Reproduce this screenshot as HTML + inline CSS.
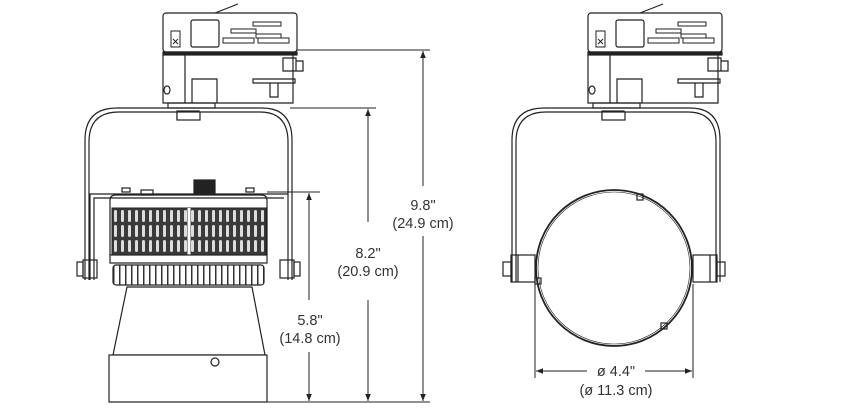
<!DOCTYPE html>
<html><head><style>
html,body{margin:0;padding:0;background:#fff;}
svg{display:block;}
text{font-family:"Liberation Sans",sans-serif;font-size:14.5px;fill:#333;}
</style></head><body>
<svg width="850" height="412" viewBox="0 0 850 412" xmlns="http://www.w3.org/2000/svg">
<defs>
<marker id="ar" viewBox="0 0 10 10" refX="10" refY="5" markerWidth="7" markerHeight="7" orient="auto-start-reverse"><path d="M0,1 L10,5 L0,9 z" fill="#222"/></marker>
<g id="adapter" fill="none" stroke="#222" stroke-width="1.2">
  <rect x="0" y="0" width="134" height="39" rx="3" fill="#fff"/>
  <line x1="52" y1="0" x2="75" y2="-9"/>
  <rect x="8" y="18" width="9" height="16" stroke-width="1"/>
  <path d="M10,26 l5,5 M15,26 l-5,5" stroke-width="1"/>
  <rect x="28" y="7" width="28" height="27" rx="2"/>
  <rect x="60" y="25" width="31" height="5" stroke-width="1"/>
  <rect x="95" y="25" width="31" height="5" stroke-width="1"/>
  <rect x="68" y="16" width="25" height="4" stroke-width="1"/>
  <rect x="90" y="9" width="28" height="4" stroke-width="1"/>
  <rect x="93" y="21" width="25" height="4" stroke-width="1"/>
  <rect x="0" y="39" width="134" height="3" fill="#222"/>
  <path d="M0,42 V90 H130 V42"/>
  <line x1="22" y1="42" x2="22" y2="90"/>
  <path d="M29,90 V66 H54 V90"/>
  <path d="M90,66 H132 V70 H90 z M107,70 V84 H115 V70"/>
  <path d="M120,45 H133 V58 H120 z M133,48 H140 V58 H133"/>
  <ellipse cx="4" cy="77" rx="3" ry="4"/>
  <rect x="5" y="90" width="47" height="5"/>
  <rect x="14" y="98" width="22" height="8"/>
</g>
<pattern id="slots" x="112" y="208" width="7" height="47" patternUnits="userSpaceOnUse">
  <rect width="7" height="47" fill="#3a3a3a"/>
  <rect x="2" y="2" width="3" height="12" rx="1.5" fill="#ddd"/>
  <rect x="2" y="17" width="3" height="12" rx="1.5" fill="#ddd"/>
  <rect x="2" y="32" width="3" height="12" rx="1.5" fill="#ddd"/>
</pattern>
<pattern id="ribs" x="113" y="265" width="6" height="20" patternUnits="userSpaceOnUse">
  <rect width="6" height="20" fill="#fff"/>
  <rect x="0" width="1.5" height="20" fill="#333"/>
</pattern>
</defs>

<!-- LEFT VIEW -->
<use href="#adapter" x="163" y="13"/>
<g fill="none" stroke="#222" stroke-width="1.2">
  <!-- yoke -->
  <path d="M85,280 V140 Q85,108 117,108 H262 Q292,108 292,140 V280"/>
  <path d="M89,280 V142 Q89,112 119,112 H260 Q288,112 288,142 V280"/>
  <path d="M90,280 V194 H288"/>
  <path d="M94,280 V198 H284"/>
  <rect x="77" y="262" width="6" height="14"/>
  <rect x="83" y="260" width="14" height="18"/>
  <rect x="280" y="260" width="14" height="18"/>
  <rect x="294" y="262" width="6" height="14"/>
  <!-- top knobs -->
  <rect x="194" y="180" width="21" height="14" fill="#222"/>
  <rect x="141" y="190" width="12" height="5"/>
  <rect x="122" y="188" width="8" height="4"/>
  <rect x="246" y="188" width="8" height="4"/>
  <!-- housing -->
  <path d="M110,255 V200 Q110,195 116,195 H261 Q267,195 267,200 V255"/>
</g>
<rect x="112" y="208" width="154" height="47" fill="url(#slots)" stroke="#222"/>
<line x1="189" y1="208" x2="189" y2="255" stroke="#fff" stroke-width="3"/>
<rect x="110" y="255" width="157" height="8" fill="#fff" stroke="#222" stroke-width="1.2"/>
<rect x="113" y="265" width="151" height="20" rx="3" fill="url(#ribs)" stroke="#222" stroke-width="1.2"/>
<g fill="none" stroke="#222" stroke-width="1.2">
  <path d="M127,287 H252 L265,355 H113 z" fill="#fff"/>
  <rect x="109" y="355" width="158" height="47" fill="#fff"/>
  <circle cx="215" cy="362" r="4"/>
  <!-- nut -->
  <rect x="177" y="112" width="23" height="8" fill="#fff"/>
</g>
<!-- dims left -->
<g stroke="#222" stroke-width="1" fill="none">
  <line x1="297" y1="50" x2="430" y2="50"/>
  <line x1="290" y1="108" x2="376" y2="108"/>
  <line x1="267" y1="192" x2="320" y2="192"/>
  <line x1="240" y1="402" x2="430" y2="402"/>
  <line x1="309" y1="193" x2="309" y2="300" marker-start="url(#ar)"/>
  <line x1="309" y1="352" x2="309" y2="401" marker-end="url(#ar)"/>
  <line x1="368" y1="109" x2="368" y2="222" marker-start="url(#ar)"/>
  <line x1="368" y1="300" x2="368" y2="401" marker-end="url(#ar)"/>
  <line x1="423" y1="51" x2="423" y2="186" marker-start="url(#ar)"/>
  <line x1="423" y1="236" x2="423" y2="401" marker-end="url(#ar)"/>
</g>
<text x="310" y="325" text-anchor="middle">5.8"</text>
<text x="310" y="343" text-anchor="middle">(14.8 cm)</text>
<text x="368" y="258" text-anchor="middle">8.2"</text>
<text x="368" y="276" text-anchor="middle">(20.9 cm)</text>
<text x="423" y="210" text-anchor="middle">9.8"</text>
<text x="423" y="228" text-anchor="middle">(24.9 cm)</text>

<!-- RIGHT VIEW -->
<use href="#adapter" x="588" y="13"/>
<g fill="none" stroke="#222" stroke-width="1.2">
  <path d="M512,282 V140 Q512,108 544,108 H690 Q720,108 720,140 V282"/>
  <path d="M516,282 V142 Q516,112 546,112 H688 Q716,112 716,142 V282"/>
  <rect x="503" y="262" width="8" height="14"/>
  <rect x="511" y="255" width="24" height="27"/>
  <line x1="518" y1="255" x2="518" y2="282"/>
  <rect x="693" y="255" width="24" height="27"/>
  <line x1="710" y1="255" x2="710" y2="282"/>
  <rect x="717" y="262" width="8" height="14"/>
  <circle cx="614" cy="268" r="78" fill="#fff" stroke-width="1.8"/>
  <circle cx="614" cy="268" r="76" stroke-width="0.6"/>
  <rect x="637" y="194" width="6" height="6"/>
  <rect x="535" y="278" width="6" height="6"/>
  <rect x="661" y="323" width="6" height="6"/>
  <rect x="602" y="112" width="23" height="8" fill="#fff"/>
</g>
<g stroke="#222" stroke-width="1" fill="none">
  <line x1="535" y1="284" x2="535" y2="378"/>
  <line x1="693" y1="284" x2="693" y2="378"/>
  <line x1="536" y1="371" x2="587" y2="371" marker-start="url(#ar)"/>
  <line x1="645" y1="371" x2="692" y2="371" marker-end="url(#ar)"/>
</g>
<text x="616" y="376" text-anchor="middle">ø 4.4"</text>
<text x="616" y="395" text-anchor="middle">(ø 11.3 cm)</text>
</svg>
</body></html>
